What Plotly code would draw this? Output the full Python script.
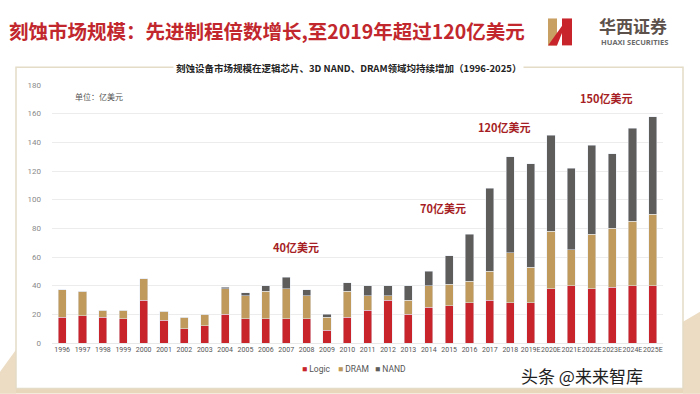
import plotly.graph_objects as go

years = ["1996", "1997", "1998", "1999", "2000", "2001", "2002", "2003", "2004", "2005",
         "2006", "2007", "2008", "2009", "2010", "2011", "2012", "2013", "2014", "2015",
         "2016", "2017", "2018", "2019E", "2020E", "2021E", "2022E", "2023E", "2024E", "2025E"]
logic = [18, 19, 18, 17, 30, 16, 10, 12, 20, 17, 17, 17, 17, 9, 18, 23, 30, 20, 25, 26,
         28, 30, 28, 28, 38, 40, 38, 39, 40, 40]
dram = [19, 17, 5, 6, 15, 6, 8, 8, 18, 16, 19, 21, 16, 9, 18, 10, 3, 10, 15, 15,
        15, 20, 35, 25, 40, 25, 38, 41, 45, 50]
nand = [0, 0, 0, 0, 0, 0, 0, 0, 1, 2, 4, 8, 4, 2, 6, 7, 7, 10, 10, 20,
        33, 58, 67, 72, 67, 57, 62, 52, 65, 68]

series_names = ["Logic", "DRAM", "NAND"]
series_colors = ["#c8242b", "#c09a5c", "#5e5d5b"]

# callouts: (category position, value, text)
callout_x = [11.5, 18.7, 21.7, 26.7]
callout_y = [67, 94, 151, 171]
callout_text = ["40亿美元", "70亿美元", "120亿美元", "150亿美元"]

W, H = 700, 394
L, R, T, B = 52, 37, 84.7, 50.7
PW, PH = W - L - R, H - T - B


def px(x):
    return (x - L) / PW


def py(y):
    return (H - B - y) / PH


CJK = "Noto Sans CJK SC"
NARROW = "Liberation Sans Narrow, Roboto, sans-serif"

fig = go.Figure()
for name, vals, col in zip(series_names, [logic, dram, nand], series_colors):
    fig.add_trace(go.Bar(x=years, y=vals, name=name, marker_color=col, showlegend=False))

shapes = [
    # beige page decoration
    dict(type="rect", xref="paper", yref="paper", x0=px(0), x1=px(W), y0=py(H), y1=py(389),
         fillcolor="#e9d7bb", line_width=0, layer="below"),
    dict(type="path", xref="paper", yref="paper",
         path=f"M {px(0)},{py(H)} L {px(16)},{py(H)} L {px(16)},{py(350)} L {px(0)},{py(372)} Z",
         fillcolor="#ecdcc4", line_width=0, layer="below"),
    dict(type="path", xref="paper", yref="paper",
         path=f"M {px(683)},{py(H)} L {px(W)},{py(H)} L {px(W)},{py(312)} L {px(683)},{py(322)} Z",
         fillcolor="#ecdcc4", line_width=0, layer="below"),
    # chart frame
    dict(type="rect", xref="paper", yref="paper", x0=px(16), x1=px(683), y0=py(389), y1=py(67),
         line=dict(color="#e4dcc6", width=1.5), fillcolor="rgba(0,0,0,0)", layer="below"),
    # logo
    dict(type="rect", xref="paper", yref="paper", x0=px(548), x1=px(557), y0=py(45), y1=py(18),
         fillcolor="#c9a063", line_width=0),
    dict(type="path", xref="paper", yref="paper",
         path=f"M {px(548)},{py(45)} L {px(557)},{py(45)} L {px(563)},{py(30)} L {px(563)},{py(24)} Z",
         fillcolor="#c8242b", line_width=0),
    dict(type="rect", xref="paper", yref="paper", x0=px(562), x1=px(572), y0=py(45), y1=py(18),
         fillcolor="#c8242b", line_width=0),
]

annotations = [
    dict(text="<b>刻蚀市场规模：先进制程倍数增长,至2019年超过120亿美元</b>", xref="paper", yref="paper",
         x=px(7), y=py(30), xanchor="left", yanchor="middle", showarrow=False,
         font=dict(family=CJK, size=19.5, color="#c1272d")),
    dict(text="<b>华西证券</b>", xref="paper", yref="paper", x=px(633), y=py(25),
         xanchor="center", yanchor="middle", showarrow=False,
         font=dict(family=CJK, size=17, color="#5d514c")),
    dict(text="<b>HUAXI SECURITIES</b>", xref="paper", yref="paper", x=px(634), y=py(42),
         xanchor="center", yanchor="middle", showarrow=False,
         font=dict(family="Open Sans", size=7.5, color="#6a6a6a")),
    dict(text="<b>刻蚀设备市场规模在逻辑芯片、3D NAND、DRAM领域均持续增加（1996-2025）</b>",
         xref="paper", yref="paper", x=px(348), y=py(68), xanchor="center", yanchor="middle",
         showarrow=False, bgcolor="white", borderpad=2,
         font=dict(family=CJK, size=9.5, color="#222222")),
    dict(text="单位：亿美元", xref="paper", yref="paper", x=px(73), y=py(96),
         xanchor="left", yanchor="middle", showarrow=False,
         font=dict(family=CJK, size=8, color="#555555")),
    dict(text="头条 @来来智库", xref="paper", yref="paper", x=px(582), y=py(376),
         xanchor="center", yanchor="middle", showarrow=False,
         font=dict(family=CJK, size=17, color="#1e1e1e", shadow="1px 1px 2px white")),
]
for cx, cy, ct in zip(callout_x, callout_y, callout_text):
    annotations.append(dict(text=f"<b>{ct}</b>", x=cx, y=cy, xref="x", yref="y",
                            showarrow=False, xanchor="center", yanchor="middle",
                            font=dict(family=CJK, size=11, color="#a61e24")))

# compact legend drawn as text
legend_x = [300, 336, 373]
for lx, name, col in zip(legend_x, series_names, series_colors):
    annotations.append(dict(
        text=f"<span style='color:{col}'>■</span> {name}", xref="paper", yref="paper",
        x=px(lx), y=py(369), xanchor="left", yanchor="middle", showarrow=False,
        font=dict(family=NARROW, size=8.5, color="#555555")))

fig.update_layout(
    width=W, height=H,
    margin=dict(l=L, r=R, t=T, b=B),
    paper_bgcolor="white", plot_bgcolor="white",
    barmode="stack", bargap=0.6, showlegend=False,
    shapes=shapes, annotations=annotations,
    xaxis=dict(type="category", tickfont=dict(family=NARROW, size=7, color="#555555"),
               showgrid=False, showline=True, linecolor="#e8e8e8", ticks="", tickangle=0),
    yaxis=dict(range=[0, 180], dtick=20, showgrid=True, gridcolor="#ececec",
               zeroline=False, ticks="", ticklen=0,
               tickfont=dict(family=NARROW, size=8, color="#8a8a8a")),
)
fig.update_yaxes(ticklabelstandoff=10)

fig.write_html("out.html", config={"displayModeBar": False},
               post_script="document.body.style.margin='0px';")
